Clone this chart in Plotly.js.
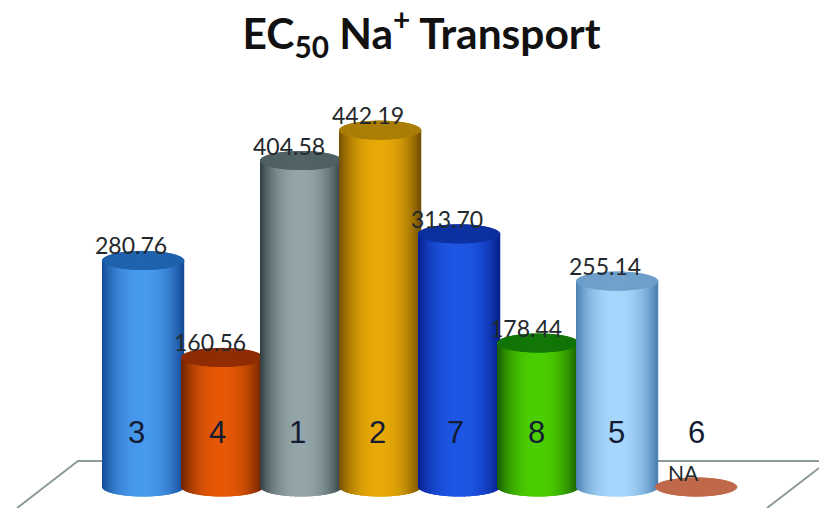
<!DOCTYPE html>
<html>
<head>
<meta charset="utf-8">
<script src="https://cdn.plot.ly/plotly-3.0.1.min.js"></script>
<style>html,body{margin:0;padding:0;background:#fff}#chart{width:819px;height:508px}</style>
</head>
<body>
<div id="chart"></div>
<script>
const categories = ['3', '4', '1', '2', '7', '8', '5', '6'];
const values = [280.76, 160.56, 404.58, 442.19, 313.70, 178.44, 255.14, null];
const edgeColors = ['#134a94', '#6a2000', '#2f3d41', '#734f00', '#061e8c', '#155a00', '#4a80b2', '#b8614a'];
const midColors = ['#4799ee', '#e65805', '#93a5a8', '#e7a907', '#1d56e4', '#4bce00', '#a6d6fb', '#c0684a'];
const capColors = ['#1d60aa', '#8c2a02', '#4e5f63', '#a87c06', '#0a2f9e', '#0f7206', '#6d9ec9', '#c0684a'];
const numberShifts = [-7, -5, -4, -3, -4, -2, -1, 0];
const missingLabel = 'NA';

const pxPerCategory = 79;
const pxPerUnit = 0.807;
const halfWidth = 40.5 / pxPerCategory;
const halfCap = 9.5 / pxPerUnit;
const stripCount = 81;
const labelRow = 67;

function rgb(hex) {
  return [1, 3, 5].map(i => parseInt(hex.slice(i, i + 2), 16));
}
function mix(a, b, f) {
  const A = rgb(a), B = rgb(b);
  return 'rgb(' + A.map((c, i) => Math.round(c + (B[i] - c) * f)).join(',') + ')';
}

const traces = [{
  type: 'bar', x: categories.map((_, i) => i), y: values,
  width: 2 * halfWidth, marker: {color: midColors}, hoverinfo: 'y'
}];

categories.forEach((cat, i) => {
  const missing = values[i] === null;
  const v = missing ? 0 : values[i];
  const xs = [], arc = [], body = [], cap = [];
  for (let s = 0; s < stripCount; s++) {
    const t = -1 + 2 * (s + 0.5) / stripCount;
    const a = halfCap * Math.sqrt(1 - t * t);
    xs.push(i + t * halfWidth);
    arc.push(a);
    body.push(mix(edgeColors[i], midColors[i], 1 - Math.pow(Math.abs(t), 2.4)));
    cap.push(mix(capColors[i], midColors[i], missing ? 0 : 0.06 * (1 - Math.abs(t))));
  }
  const w = 1.5 * 2 * halfWidth / stripCount;
  if (!missing) {
    traces.push({
      type: 'bar', x: xs, base: arc.map(a => -a), y: arc.map(a => v + a),
      width: w, marker: {color: body, line: {width: 0}}, hoverinfo: 'skip'
    });
  }
  traces.push({
    type: 'bar', x: xs, base: arc.map(a => v - a), y: arc.map(a => 2 * a),
    width: w, marker: {color: cap, line: {width: 0}}, hoverinfo: 'skip'
  });
});

const annotations = [];
categories.forEach((cat, i) => {
  annotations.push({
    x: i, y: labelRow, text: cat, showarrow: false, xshift: numberShifts[i],
    font: {family: '"Liberation Sans", Arial, sans-serif', size: 31, color: '#141c33'}
  });
  annotations.push({
    x: i, y: values[i] === null ? 0 : values[i],
    text: values[i] === null ? missingLabel : values[i].toFixed(2),
    showarrow: false, xshift: -13, yshift: 15,
    font: {family: 'Lato, sans-serif', size: values[i] === null ? 21 : 23, color: '#23282c'}
  });
});

const floorLine = {color: '#8d9a9c', width: 2};
const layout = {
  width: 819, height: 508,
  margin: {l: 0, r: 0, t: 0, b: 0},
  paper_bgcolor: '#fff', plot_bgcolor: 'rgba(0,0,0,0)',
  showlegend: false, barmode: 'overlay', dragmode: false,
  title: {
    text: 'EC<sub>50</sub> Na<sup>+</sup> Transport',
    font: {family: 'Lato, sans-serif', size: 42.5, weight: 700, color: '#111'},
    x: 421.5 / 819, xanchor: 'center', xref: 'paper',
    y: 1 - 34 / 508, yanchor: 'middle', yref: 'container'
  },
  xaxis: {range: [-143.5 / pxPerCategory, (819 - 143.5) / pxPerCategory], visible: false, fixedrange: true},
  yaxis: {range: [-21 / pxPerUnit, 487 / pxPerUnit], visible: false, fixedrange: true},
  annotations: annotations,
  shapes: [
    {type: 'path', xref: 'paper', yref: 'paper', layer: 'below', line: floorLine,
     path: 'M 0.0208 0 L 0.0952 0.0925 L 1 0.0925'},
    {type: 'line', xref: 'paper', yref: 'paper', layer: 'below', line: floorLine,
     x0: 0.9365, y0: 0, x1: 1, y1: 0.0787}
  ]
};

Plotly.newPlot('chart', traces, layout, {displayModeBar: false, responsive: false});
</script>
</body>
</html>
